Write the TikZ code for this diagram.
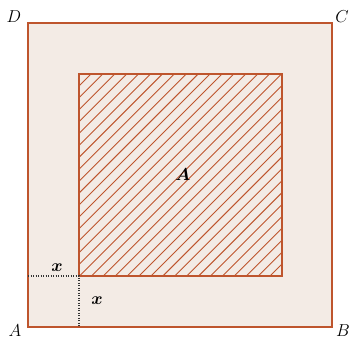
\documentclass[tikz,border=0pt]{standalone}
\usepackage{amsmath,bm}
\definecolor{fillbg}{RGB}{243,235,229}
\definecolor{edge}{RGB}{190,85,45}
\begin{document}
\begin{tikzpicture}[x=1pt,y=-1pt,
  lbl/.style={font=\fontsize{17}{19}\selectfont, inner sep=0pt},
  sq/.style={draw=edge, line width=1.3pt},
  hatch/.style={draw=edge, line width=0.9pt},
  guide/.style={draw=black!80, dash pattern=on 1pt off 1.5pt, line width=1.2pt}]
\useasboundingbox (0,0) rectangle (351,340);
\fill[white] (0,0) rectangle (351,340);
\coordinate (A) at (28,327);
\coordinate (B) at (332,327);
\coordinate (C) at (332,23);
\coordinate (D) at (28,23);
\coordinate (P) at (79,276);
\coordinate (Q) at (282,74);
\fill[fillbg] (A) rectangle (C);
\draw[sq] (A) rectangle (C);
\begin{scope}
\clip (P) rectangle (Q);
\foreach \i in {0,...,34}{
  \pgfmathsetmacro{\c}{153+\i*405/34}
  \draw[hatch] (\c-300,300) -- (\c,0);
}
\end{scope}
\draw[sq] (P) rectangle (Q);
\coordinate (L) at (28,276);
\coordinate (M) at (79,327);
\draw[guide] (L) -- (P) -- (M);
\node[lbl] (lD) at (14,17) {$D$};
\node[lbl] (lC) at (342,17) {$C$};
\node[lbl] (lA) at (15,331) {$A$};
\node[lbl] (lB) at (343,331) {$B$};
\node[lbl] (lx1) at (57,268) {$\bm{x}$};
\node[lbl] (lx2) at (97,301) {$\bm{x}$};
\node[lbl] (lArea) at (183,175) {$\bm{A}$};
\end{tikzpicture}
\end{document}
